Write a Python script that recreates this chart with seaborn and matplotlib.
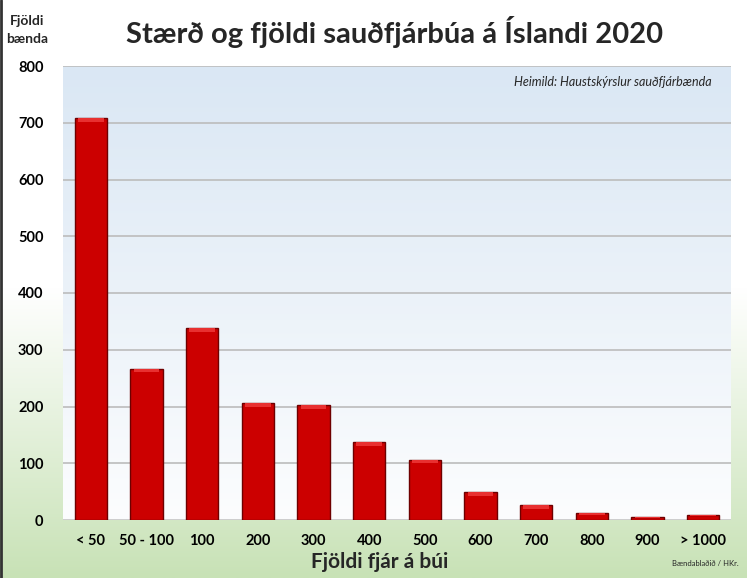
import numpy as np
import pandas as pd
import matplotlib
matplotlib.use('Agg')
import matplotlib.pyplot as plt
from matplotlib.colors import LinearSegmentedColormap
from matplotlib.lines import Line2D
import seaborn as sns

# gögn
flokkar = ['< 50', '50 - 100', '100', '200', '300', '400', '500', '600', '700', '800', '900', '> 1000']
fjoldi_baenda = [708, 266, 338, 206, 202, 137, 106, 49, 26, 12, 5, 9]
y_ticks = [0, 100, 200, 300, 400, 500, 600, 700, 800]

df = pd.DataFrame({'flokkur': flokkar, 'fjoldi': fjoldi_baenda})

sns.set_theme(style='white')
plt.rcParams['font.family'] = ['Lato', 'DejaVu Sans']

fig = plt.figure(figsize=(7.47, 5.78), dpi=100)

# bakgrunnur myndar: hvítt efst -> ljósgrænt neðst
bg = fig.add_axes([0, 0, 1, 1], zorder=-10)
green = LinearSegmentedColormap.from_list('g', ['#ffffff', '#ffffff', '#c8e2b6'])
bg.imshow(np.linspace(0, 1, 256).reshape(-1, 1), cmap=green, aspect='auto', extent=[0, 1, 0, 1])
bg.set_axis_off()

ax = fig.add_axes([63 / 747, 58 / 578, 668 / 747, 454 / 578])
blue = LinearSegmentedColormap.from_list('b', ['#dae7f4', '#fcfdfe'])
ax.imshow(np.linspace(0, 1, 256).reshape(-1, 1), cmap=blue, aspect='auto',
          extent=[-0.5, 11.5, 0, 800], zorder=0)

sns.barplot(data=df, x='flokkur', y='fjoldi', color='#cc0000', saturation=1,
            width=0.58, edgecolor='#6e0000', linewidth=1.0, ax=ax, zorder=3)

# smá skuggaáhrif á súlur
for p in ax.patches:
    x0, w, h = p.get_x(), p.get_width(), p.get_height()
    ax.bar(x0 + w / 2, min(6, h * 0.3), width=w * 0.8, bottom=h - min(6, h * 0.3),
           color='#e83030', linewidth=0, zorder=4)

ax.set_xlim(-0.5, 11.5)
ax.set_ylim(0, 800)
ax.set_yticks(y_ticks)
ax.grid(axis='y', color='#bcbcbc', linewidth=1.2, zorder=1)
ax.set_axisbelow(True)
for s in ax.spines.values():
    s.set_visible(False)
ax.axhline(0, color='#d0d0d0', linewidth=1.2, zorder=2)
ax.tick_params(axis='both', length=0, labelsize=10.5, colors='black')
ax.tick_params(axis='y', pad=14)
ax.tick_params(axis='x', pad=10)
for lbl in ax.get_xticklabels() + ax.get_yticklabels():
    lbl.set_fontweight('bold')
ax.set_xlabel('')
ax.set_ylabel('')

fig.text(394 / 747, 1 - 32 / 578, 'Stærð og fjöldi sauðfjárbúa á Íslandi 2020',
         ha='center', va='center', fontsize=21, fontweight='bold')
fig.text(27 / 747, 1 - 30 / 578, 'Fjöldi\nbænda', ha='center', va='center',
         fontsize=10, fontweight='bold', linespacing=1.6)
fig.text(380 / 747, 1 - 562 / 578, 'Fjöldi fjár á búi', ha='center', va='center',
         fontsize=15, fontweight='bold')
fig.text(712 / 747, 1 - 82 / 578, 'Heimild: Haustskýrslur sauðfjárbænda', ha='right',
         va='center', fontsize=9, style='italic')
fig.text(705 / 747, 1 - 563 / 578, 'Bændablaðið / HKr.', ha='center', va='center',
         fontsize=5.5)

fig.add_artist(Line2D([0.002, 0.002], [0, 1], color='#333333', linewidth=2))

fig.savefig('out.png', dpi=100)
